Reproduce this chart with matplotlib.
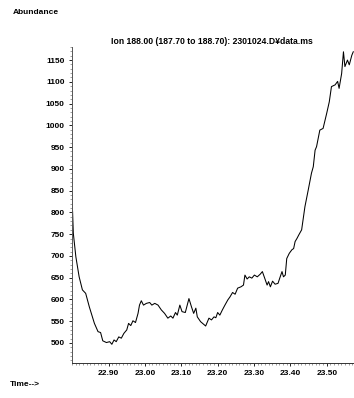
import numpy as np
import matplotlib
matplotlib.use("Agg")
import matplotlib.pyplot as plt
from matplotlib.ticker import MultipleLocator

# retention time (min) and abundance
time = [22.799, 22.800, 22.801, 22.803, 22.810, 22.819, 22.828, 22.837, 22.847, 22.861,
        22.871, 22.878, 22.884, 22.894, 22.903, 22.909, 22.915, 22.921, 22.928, 22.935,
        22.942, 22.950, 22.955, 22.961, 22.967, 22.974, 22.981, 22.985, 22.990, 22.996,
        23.004, 23.013, 23.019, 23.027, 23.036, 23.045, 23.054, 23.063, 23.071, 23.077,
        23.084, 23.089, 23.096, 23.102, 23.111, 23.121, 23.128, 23.134, 23.140, 23.144,
        23.153, 23.167, 23.176, 23.183, 23.190, 23.195, 23.200, 23.206, 23.213, 23.220,
        23.228, 23.234, 23.241, 23.248, 23.255, 23.264, 23.271, 23.275, 23.281, 23.287,
        23.294, 23.301, 23.309, 23.317, 23.323, 23.331, 23.336, 23.340, 23.345, 23.351,
        23.358, 23.366, 23.372, 23.377, 23.381, 23.386, 23.390, 23.397, 23.404, 23.409,
        23.413, 23.418, 23.423, 23.431, 23.440, 23.449, 23.458, 23.463, 23.468, 23.472,
        23.481, 23.490, 23.500, 23.507, 23.513, 23.523, 23.530, 23.534, 23.541, 23.546,
        23.550, 23.557, 23.562, 23.569, 23.573]
abundance = [845, 815, 801, 752, 698, 652, 622, 614, 583, 545,
             526, 524, 505, 501, 503, 497, 507, 503, 514, 511,
             522, 530, 545, 540, 551, 547, 568, 587, 597, 587,
             591, 593, 587, 591, 587, 576, 568, 557, 562, 557,
             570, 564, 587, 572, 570, 602, 583, 568, 580, 560,
             549, 539, 557, 553, 560, 558, 570, 564, 576, 587,
             599, 606, 616, 612, 626, 629, 633, 656, 647, 652,
             649, 656, 652, 658, 664, 645, 633, 641, 629, 642,
             635, 637, 652, 664, 652, 656, 694, 706, 714, 717,
             733, 740, 748, 760, 813, 851, 890, 905, 943, 951,
             989, 993, 1028, 1054, 1089, 1093, 1101, 1085, 1119, 1169,
             1135, 1150, 1139, 1161, 1169]

xticks = [22.90, 23.00, 23.10, 23.20, 23.30, 23.40, 23.50]
yticks = list(range(500, 1151, 50))
title = "Ion 188.00 (187.70 to 188.70): 2301024.D\u00a5data.ms"

plt.rcParams['font.family'] = ['Liberation Sans', 'DejaVu Sans']

W, H = 354, 398
fig = plt.figure(figsize=(W / 100, H / 100), dpi=100)
ax = fig.add_axes([71.5 / W, 35 / H, (W - 71.5) / W, (363 - 47) / H])

ax.plot(time, abundance, color='black', lw=0.75)

ax.set_xlim(22.798, 23.575)
ax.set_ylim(454, 1180)
ax.set_xticks(xticks)
ax.set_xticklabels([f"{t:.2f}" for t in xticks])
ax.set_yticks(yticks)
ax.xaxis.set_minor_locator(MultipleLocator(0.01))
ax.yaxis.set_minor_locator(MultipleLocator(10))

for side in ['top', 'right']:
    ax.spines[side].set_visible(False)
ax.spines['left'].set_color('#555555')
ax.spines['bottom'].set_color('#333333')
ax.spines['left'].set_linewidth(0.7)
ax.spines['bottom'].set_linewidth(0.7)

ax.tick_params(which='major', direction='out', length=2.5, width=0.6,
               labelsize=6, pad=2.5, colors='black')
ax.tick_params(which='minor', direction='out', length=1.2, width=0.4,
               color='#555555')
for lab in ax.get_xticklabels() + ax.get_yticklabels():
    lab.set_fontweight('bold')

fig.text(212 / W, 1 - 42 / H, title, ha='center', va='center',
         fontsize=6.2, fontweight='bold')
fig.text(13 / W, 1 - 13 / H, "Abundance", ha='left', va='center',
         fontsize=6, fontweight='bold')
fig.text(10 / W, 1 - 385 / H, "Time-->", ha='left', va='center',
         fontsize=6, fontweight='bold')

fig.savefig("out.png", dpi=100)
